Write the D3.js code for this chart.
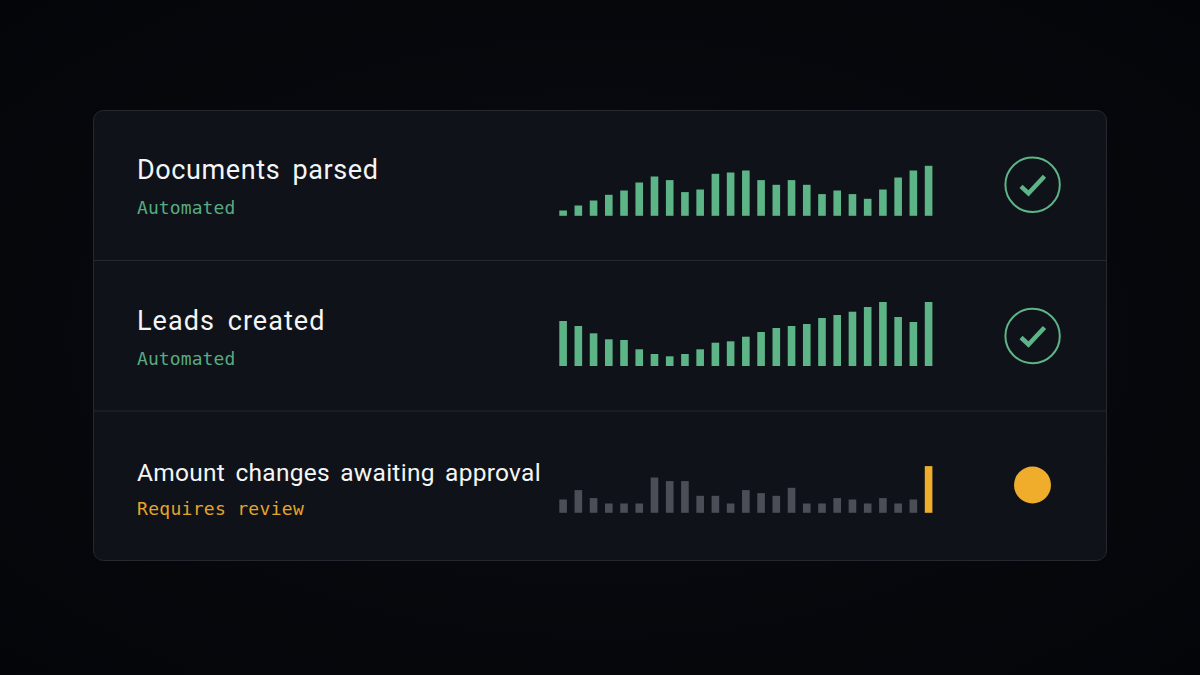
<!DOCTYPE html>
<html><head><meta charset="utf-8">
<script src="https://cdn.jsdelivr.net/npm/d3@7/dist/d3.min.js"></script>
<style>html,body{margin:0;padding:0;background:#05070b;overflow:hidden}svg{display:block}</style>
</head><body><svg id="c" width="1200" height="675"></svg>
<script>
const titles = ["Documents parsed","Leads created","Amount changes awaiting approval"];
const statuses = ["Automated","Automated","Requires review"];
const documentsParsed = [5.3,10.3,15.3,21,25.3,33.3,39.3,35.7,23.7,26.3,42,43.3,45.3,35.7,31,35.7,31,21.7,25.3,21.7,17,26.3,38.3,45.3,50];
const leadsCreated = [45,40,32.7,26.7,26,16.7,12,9.7,12,16.7,23.3,24.7,29.3,34,38,40,42,48,51,54.3,59,64,49,44,64];
const amountChanges = [13.3,22.7,14.7,9.3,9.3,9.3,35.3,31.7,31.7,17,17,9.3,22.7,19.7,17,25,9.3,9.3,14.7,13.3,9.3,14.7,9.3,13.3,46.7];

const GREEN="#5cb487", AMBER="#efad2b", GREY="#4b4e57";
const svg=d3.select("#c");
const defs=svg.append("defs");
const vg=defs.append("radialGradient").attr("id","bg").attr("cx","50%").attr("cy","50%").attr("r","72%");
vg.append("stop").attr("offset","0%").attr("stop-color","#0a0c12");
vg.append("stop").attr("offset","100%").attr("stop-color","#040509");
svg.append("rect").attr("width",1200).attr("height",675).attr("fill","url(#bg)");
svg.append("rect").attr("x",93.5).attr("y",110.5).attr("width",1013).attr("height",450).attr("rx",10)
  .attr("fill","#0f1219").attr("stroke","#25282e");
[260.5,411].forEach(y=>svg.append("line").attr("x1",94).attr("x2",1106).attr("y1",y).attr("y2",y).attr("stroke","#25282e"));

const x=d3.scaleBand().domain(d3.range(documentsParsed.length)).range([559.3,932.4]).paddingInner(0.5).paddingOuter(0);
const h=d3.scaleLinear().domain([0,64]).range([0,64]);
const rows=[
 {v:documentsParsed,base:215.8,ty:179,sy:213.8,fs:27,ls:0.6,ws:5,c:GREEN,icon:"check",iy:184.8},
 {v:leadsCreated,base:366,ty:329.5,sy:364.8,fs:27,ls:1.05,ws:5,c:GREEN,icon:"check",iy:336},
 {v:amountChanges,base:512.8,ty:481,sy:514.8,fs:24.5,ls:0.27,ws:4,c:AMBER,icon:"dot",iy:485}
];
rows.forEach((r,i)=>{
  svg.append("text").attr("x",137).attr("y",r.ty).text(titles[i])
    .attr("font-family","Roboto").attr("font-size",r.fs).attr("fill","#f4f5f6")
    .style("letter-spacing",r.ls+"px").style("word-spacing",r.ws+"px");
  svg.append("text").attr("x",137).attr("y",r.sy).text(statuses[i])
    .attr("font-family","'DejaVu Sans Mono'").attr("font-size",18).attr("fill",r.c)
    .style("letter-spacing",(i===2?0.3:0.1)+"px").attr("opacity",0.95);
  svg.append("g").selectAll("rect").data(r.v).join("rect")
    .attr("x",(d,j)=>x(j)).attr("width",x.bandwidth())
    .attr("y",d=>r.base-h(d)).attr("height",d=>h(d))
    .attr("fill",(d,j)=>r.icon==="dot"?(j===r.v.length-1?AMBER:GREY):GREEN);
  if(r.icon==="check"){
    svg.append("circle").attr("cx",1032.6).attr("cy",r.iy).attr("r",27.2).attr("fill","none").attr("stroke",GREEN).attr("stroke-width",2);
    svg.append("path").attr("d",`M1021 ${r.iy+1.5}L1028.5 ${r.iy+8.5}L1044.5 ${r.iy-8.5}`).attr("fill","none").attr("stroke",GREEN).attr("stroke-width",4.5);
  } else {
    svg.append("circle").attr("cx",1032.5).attr("cy",r.iy).attr("r",18.5).attr("fill",AMBER);
  }
});
</script></body></html>
